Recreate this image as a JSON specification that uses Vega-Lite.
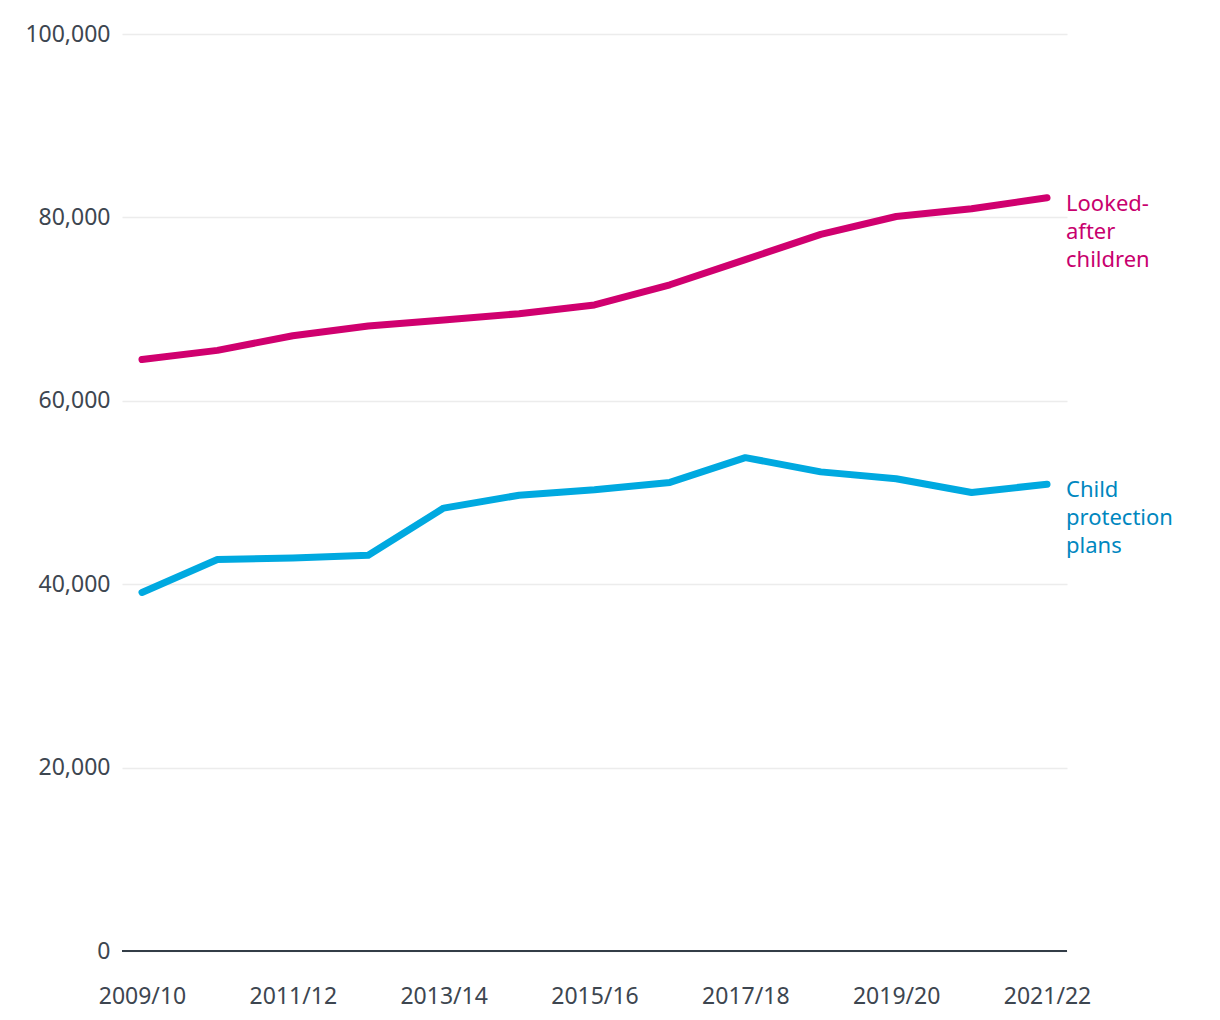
{
  "$schema": "https://vega.github.io/schema/vega-lite/v6.json",
  "autosize": "none",
  "width": 945,
  "height": 917,
  "padding": {"left": 122, "top": 34, "right": 153, "bottom": 69},
  "background": "white",
  "config": {
    "view": {"stroke": null},
    "font": "Noto Sans"
  },
  "data": {
    "values": [
      {"year": "2009/10", "series": "Looked-after children", "value": 64500},
      {"year": "2010/11", "series": "Looked-after children", "value": 65500},
      {"year": "2011/12", "series": "Looked-after children", "value": 67100},
      {"year": "2012/13", "series": "Looked-after children", "value": 68150},
      {"year": "2013/14", "series": "Looked-after children", "value": 68800},
      {"year": "2014/15", "series": "Looked-after children", "value": 69500},
      {"year": "2015/16", "series": "Looked-after children", "value": 70450},
      {"year": "2016/17", "series": "Looked-after children", "value": 72650},
      {"year": "2017/18", "series": "Looked-after children", "value": 75400},
      {"year": "2018/19", "series": "Looked-after children", "value": 78150},
      {"year": "2019/20", "series": "Looked-after children", "value": 80100},
      {"year": "2020/21", "series": "Looked-after children", "value": 80950},
      {"year": "2021/22", "series": "Looked-after children", "value": 82150},
      {"year": "2009/10", "series": "Child protection plans", "value": 39100},
      {"year": "2010/11", "series": "Child protection plans", "value": 42700},
      {"year": "2011/12", "series": "Child protection plans", "value": 42850},
      {"year": "2012/13", "series": "Child protection plans", "value": 43150},
      {"year": "2013/14", "series": "Child protection plans", "value": 48300},
      {"year": "2014/15", "series": "Child protection plans", "value": 49700},
      {"year": "2015/16", "series": "Child protection plans", "value": 50300},
      {"year": "2016/17", "series": "Child protection plans", "value": 51100},
      {"year": "2017/18", "series": "Child protection plans", "value": 53800},
      {"year": "2018/19", "series": "Child protection plans", "value": 52250},
      {"year": "2019/20", "series": "Child protection plans", "value": 51500},
      {"year": "2020/21", "series": "Child protection plans", "value": 50000},
      {"year": "2021/22", "series": "Child protection plans", "value": 50900}
    ]
  },
  "encoding": {
    "x": {
      "field": "year",
      "type": "ordinal",
      "scale": {"type": "point", "padding": 0.265},
      "axis": {
        "title": null,
        "domain": false,
        "ticks": false,
        "grid": false,
        "labelAngle": 0,
        "labelFontSize": 23,
        "labelColor": "#3d4650",
        "labelPadding": 34,
        "labelExpr": "indexof(['2009/10','2011/12','2013/14','2015/16','2017/18','2019/20','2021/22'], datum.value) >= 0 ? datum.value : ''"
      }
    },
    "y": {
      "field": "value",
      "type": "quantitative",
      "scale": {"domain": [0, 100000], "nice": false},
      "axis": {
        "title": null,
        "values": [0, 20000, 40000, 60000, 80000, 100000],
        "format": ",.0f",
        "domain": false,
        "ticks": false,
        "grid": true,
        "gridColor": "#ececec",
        "gridWidth": 1.5,
        "labelFontSize": 23,
        "labelColor": "#3d4650",
        "labelPadding": 12
      }
    },
    "color": {
      "field": "series",
      "type": "nominal",
      "scale": {"domain": ["Looked-after children", "Child protection plans"], "range": ["#d0006f", "#00a9e0"]},
      "legend": null
    }
  },
  "layer": [
    {
      "mark": {"type": "rule", "color": "#333d47", "strokeWidth": 2},
      "data": {"values": [{"z": 0}]},
      "encoding": {
        "y": {"field": "z", "type": "quantitative"},
        "x": null,
        "color": null
      }
    },
    {
      "mark": {"type": "line", "strokeWidth": 7, "strokeCap": "round", "strokeJoin": "round"}
    },
    {
      "transform": [
        {"filter": "datum.year == '2021/22'"},
        {"calculate": "datum.series == 'Looked-after children' ? ['Looked-', 'after', 'children'] : ['Child', 'protection', 'plans']", "as": "label"}
      ],
      "mark": {"type": "text", "align": "left", "baseline": "alphabetic", "dx": 19, "dy": 13, "fontSize": 22, "lineHeight": 28},
      "encoding": {
        "text": {"field": "label"},
        "color": null,
        "fill": {
          "field": "series",
          "type": "nominal",
          "scale": {"domain": ["Looked-after children", "Child protection plans"], "range": ["#c8006e", "#0087bf"]},
          "legend": null
        }
      }
    }
  ]
}
